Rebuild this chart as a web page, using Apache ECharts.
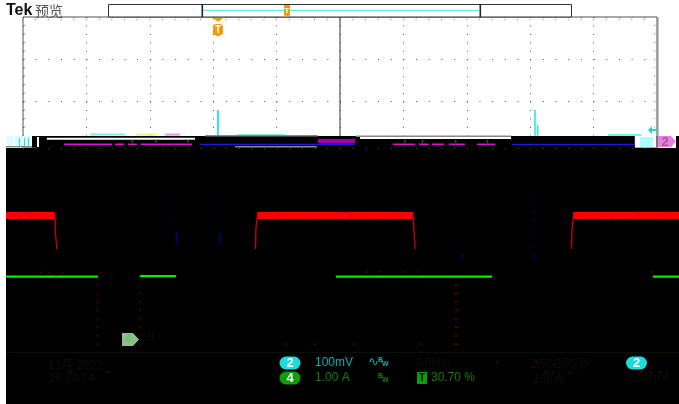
<!DOCTYPE html>
<html><head><meta charset="utf-8">
<style>html,body{margin:0;padding:0;background:#fff}#c{width:679px;height:404px}</style>
<script src="https://cdn.jsdelivr.net/npm/echarts@6/dist/echarts.min.js"></script>
</head><body><div id="c"></div>
<script>
// time in microseconds (4 us per division, 0 at centre); level in divisions from the top of each grid
const redBand = [[-21.07,1.596],[-18.0,1.596],null,[-5.22,1.596],[4.62,1.596],null,[14.7,1.596],[21.39,1.596]];
const redEdge = [[-17.98,1.55],[-17.96,2.0],[-17.85,2.39],null,[-5.33,2.39],[-5.3,1.9],[-5.2,1.55],null,[4.6,1.55],[4.68,2.0],[4.74,2.39],null,[14.6,2.39],[14.65,1.9],[14.75,1.55]];
const redSpikes = [[-20.2,1.5],[-20.2,1.7],null,[-19.5,1.5],[-19.5,1.7],null,[-18.9,1.52],[-18.9,1.69],null,[-3.8,1.5],[-3.8,1.69],null,[-1.9,1.52],[-1.9,1.7],null,[0.7,1.49],[0.7,1.7],null,[2.8,1.52],[2.8,1.69],null,[15.9,1.5],[15.9,1.7],null,[17.2,1.52],[17.2,1.7],null,[18.9,1.5],[18.9,1.69],null,[20.5,1.5],[20.5,1.7]];
const greenTrace = [[-21.07,3.04],[-15.27,3.04],null,[-12.62,3.03],[-10.35,3.03],null,[-0.25,3.04],[9.59,3.04],null,[19.75,3.04],[21.39,3.04]];
const redDotTimes = [-15.3,-12.6,7.3,7.4];
const redDotLevels = [3.24,3.44,3.64,3.84,4.04,4.24,4.44,4.64];
const blueDotTimes = [-10.41,-7.65,12.18,12.28];
const blueDotLevels = [1.11,1.31,1.51,1.71,1.91,2.11,2.31];
const redSpecks = [[-18.9,2.94],[-18.4,2.94],[-17.5,2.94],[-15.1,2.94],[-3.4,4.64],[-1.6,4.64],[0.9,4.64],[1.7,2.93],[2.5,2.93],[5.1,4.64],[4.1,2.93],[4.9,2.93],[19.7,2.93],[-17.3,5.0],[-16.2,5.05],[-14.6,5.3],[-17.0,5.3],[9.9,5.05],[12.4,5.05],[13.0,5.3],[13.4,5.32],[14.5,5.32],[19.0,5.3],[19.6,5.3],[20.2,5.3],[5.0,5.4]];
const blueBars = [[-10.3,2.0],[-10.3,2.25],null,[-7.55,2.0],[-7.55,2.25],null,[7.75,2.5],[7.75,2.6],null,[12.2,2.5],[12.2,2.6]];
const spike1 = [[-7.7,2.2],[-7.7,2.81]];
const spike2 = [[12.3,2.2],[12.3,2.81],null,[12.47,2.55],[12.47,2.81]];
const centreLine = [[0,0],[0,2.81]];
const blackBand = [[-19.43,2.955],[18.61,2.955]];
const whiteStrips = [[-18.49,2.877],[-9.15,2.877],null,[1.26,2.86],[10.79,2.86]];
const greyStrips = [[-6.62,3.066],[-1.45,3.066],null,[-8.5,2.81],[-1.4,2.81],null,[1.0,2.82],[10.8,2.82]];
const magentaDashes = [[-17.41,3.01],[-14.38,3.01],null,[-14.2,3.01],[-13.63,3.01],null,[-13.38,3.01],[-12.81,3.01],null,[-12.56,3.01],[-9.34,3.01],null,[3.34,3.01],[4.73,3.01],null,[4.98,3.01],[5.62,3.01],null,[5.8,3.01],[6.56,3.01],null,[6.88,3.01],[7.89,3.01],null,[8.64,3.01],[9.78,3.01]];
const blueLine = [[-8.83,3.012],[0.95,3.012],null,[10.85,3.012],[18.61,3.012]];
const purpleBlock = [[-1.39,2.93],[0.95,2.93]];
const cyanNoise = [[-15.77,2.78],[-13.56,2.78],null,[-6.5,2.79],[-3.5,2.79],null,[16.9,2.79],[19,2.79]];
const yellowNoise = [[-12.87,2.78],[-11.55,2.78]];
const magentaNoise = [[-11.04,2.78],[-10.09,2.78]];
const greenTicks = [[-13.1,2.94],[-11.6,2.94],[-9.6,2.94],[4.1,2.94],[5.2,2.94],[7.3,2.94],[9.3,2.94]];
const channelLabels = ['2','4'];
const scaleLabels = ['100mV','1.00 A'];
const triggerLevel = '30.70 %';

function cross(ts, ls){const o=[];ts.forEach(t=>ls.forEach(l=>o.push([t,l])));return o;}
const edgeTicks=[];for(let i=-25;i<=25;i++){edgeTicks.push([i*0.8,0.06]);}
for(let j=1;j<14;j++){edgeTicks.push([-19.9,j*0.2]);edgeTicks.push([19.85,j*0.2]);}
function L(name,grid,data,color,width,z){return {name,type:'line',xAxisIndex:grid,yAxisIndex:grid,data,symbol:'none',silent:true,clip:false,connectNulls:false,animation:false,z:z||5,lineStyle:{color,width,cap:'butt'}};}
function S(name,grid,data,color,size,z){return {name,type:'scatter',xAxisIndex:grid,yAxisIndex:grid,data,symbol:'rect',symbolSize:size,silent:true,clip:false,animation:false,z:z||5,itemStyle:{color}};}
function txt(x,y,t,fill,font,extra){return Object.assign({type:'text',x,y,z:50,style:{text:t,fill,font,textVerticalAlign:'middle'}},extra||{});}
function rect(x,y,w,h,fill,r,z){return {type:'rect',z:z||40,shape:{x,y,width:w,height:h,r:r||0},style:{fill}};}
function badge(cx,cy,w,h,fill,t){return [rect(cx-w/2,cy-h/2,w,h,fill,h/2),txt(cx,cy,t,'#fff','bold 12px "Liberation Sans"',{style:{text:t,fill:'#fff',font:'bold 13px "Liberation Sans"',textAlign:'center',textVerticalAlign:'middle'}})];}
const sans='"Liberation Sans"',cjk='"Noto Sans CJK SC"';
const orange='#f59a0c';
const faint='#0d0d0d';
const graphic=[
 txt(6,11,'Tek','#111','bold 16px '+sans),
 txt(35,11,'预览','#555','14px '+cjk),
 {type:'rect',z:40,shape:{x:108.5,y:4.5,width:463,height:12.5},style:{fill:'#fff',stroke:'#333',lineWidth:1}},
 {type:'line',z:41,shape:{x1:203,y1:10.3,x2:479,y2:10.3},style:{stroke:'#3fe8e8',lineWidth:1}},
 rect(201.5,4,1.6,13,'#222',0,41), rect(479.5,4,1.6,13,'#222',0,41),
 {type:'polygon',z:42,shape:{points:[[284,5],[290,5],[290,15],[287,17],[284,15]]},style:{fill:orange}},
 {type:'polygon',z:42,shape:{points:[[213,18],[223,18],[218,22]]},style:{fill:orange}},
 {type:'polygon',z:42,shape:{points:[[215,24],[221,24],[223,26],[223,34],[218,36.5],[213,34],[213,26]]},style:{fill:orange}},
 txt(218,30,'T','#fff','bold 10px '+sans,{style:{text:'T',fill:'#fff',font:'bold 10px '+sans,textAlign:'center',textVerticalAlign:'middle'}}),
 txt(287,11,'T','#fff','bold 8px '+sans,{style:{text:'T',fill:'#fff',font:'bold 8px '+sans,textAlign:'center',textVerticalAlign:'middle'}}),
 // left edge channel readout noise
 rect(7,136,23,10,'#d8ffff',0,41), rect(13,137,2,9,'#fff',0,42), rect(19,138,1,8,'#3dd',0,42), rect(24,138,1,8,'#3dd',0,42), rect(28,138,1,8,'#3dd',0,42),
 rect(6,146,30,1.4,'#888',0,42), rect(37,137,2,10,'#fff',0,42), rect(32,136,5,11,'#000',0,42),
 // right edge markers
 rect(634,136,1,11,'#2222dd',0,42), rect(635,136,21,11,'#fff',0,41), rect(640,137,13,10,'#aaffff',0,42), rect(656,136,2,11,'#777',0,42),
 {type:'polygon',z:42,shape:{points:[[658,136],[671,136],[676,141.5],[671,147],[658,147]]},style:{fill:'#ec7de6'}},
 txt(665,142,'2','#8a6a8a','bold 13px '+sans,{style:{text:'2',fill:'#8a6a8a',font:'bold 13px '+sans,textAlign:'center',textVerticalAlign:'middle'}}),
 rect(676,136,3,12,'#000',0,41),
 {type:'polygon',z:42,shape:{points:[[648,130],[652,126],[652,129],[657,129],[657,131],[652,131],[652,134]]},style:{fill:'#17d5d5'}},
 rect(657,17,1.6,119,'#999',0,42),
 // lower readout
 rect(6,352,673,1,'#071207',0,6),
 {type:'polygon',z:42,shape:{points:[[122,333],[133,333],[139,339.5],[133,346],[122,346]]},style:{fill:'#8fbd8f'}},
 txt(128,340,'4','#5ecb5e','bold 12px '+sans,{style:{text:'4',fill:'#5ecb5e',font:'bold 12px '+sans,textAlign:'center',textVerticalAlign:'middle'}}),
 ...badge(290,363,21,13,'#1bdcdc',channelLabels[0]),
 ...badge(290,378,21,13,'#0aa00a',channelLabels[1]),
 ...badge(636.5,363,21,13,'#1bdcdc',channelLabels[0]),
 txt(315,363,scaleLabels[0],'#0ab0b0','12px '+sans),
 txt(315,378,scaleLabels[1],'#0a800a','12px '+sans),
 txt(368,363,'∿','#0ab0b0','13px "DejaVu Sans"'),
 txt(378,360,'B','#0ab0b0','bold 7px '+sans), txt(382,364,'W','#0ab0b0','bold 7px '+sans),
 txt(378,376,'B','#0a800a','bold 7px '+sans), txt(382,380,'W','#0a800a','bold 7px '+sans),
 rect(417,372,10,12,'#0aa00a',1),
 txt(422,378,'T','#000','bold 10px '+sans,{style:{text:'T',fill:'#000',font:'bold 10px '+sans,textAlign:'center',textVerticalAlign:'middle'}}),
 txt(431,378,triggerLevel,'#0a800a','12px '+sans),
 // dim readouts, almost lost in the black
 txt(48,364,'11月 2022',faint,'12px '+cjk),
 txt(48,379,'16:24:14',faint,'12px '+sans),
 txt(415,363,'4.00µs',faint,'12px '+sans),
 txt(530,363,'2.50G次/秒',faint,'12px '+cjk),
 txt(533,378,'10k点',faint,'12px '+cjk),
 txt(627,378,'22.0mV',faint,'12px '+sans),
 txt(142,338,'10',faint,'11px '+sans)
];
const chart=echarts.init(document.getElementById('c'),null,{renderer:'canvas'});
const hidden={show:false};
chart.setOption({
 animation:false,
 backgroundColor:'#fff',
 grid:[
  {left:23,top:17,width:634,height:131,show:true,backgroundColor:'#fff',borderColor:'#555',borderWidth:1,z:0},
  {left:6,top:148,right:0,bottom:0,show:true,backgroundColor:'#000',borderWidth:0,z:0}
 ],
 xAxis:[
  {gridIndex:0,z:3,type:'value',min:-20,max:20,interval:4,axisLabel:hidden,axisTick:hidden,axisLine:hidden,
   splitLine:{show:true,lineStyle:{color:'#555',width:1,type:[1,7.46]}}},
  {gridIndex:1,type:'value',min:-21.07,max:21.39,axisLabel:hidden,axisTick:hidden,axisLine:hidden,splitLine:hidden}
 ],
 yAxis:[
  {gridIndex:0,z:3,type:'value',inverse:true,min:0,max:3.097,interval:1,axisLabel:hidden,axisTick:hidden,axisLine:hidden,
   splitLine:{show:true,lineStyle:{color:'#555',width:1,type:[1,11.68]}}},
  {gridIndex:1,type:'value',inverse:true,min:0,max:6.052,axisLabel:hidden,axisTick:hidden,axisLine:hidden,splitLine:hidden}
 ],
 graphic:{elements:graphic},
 series:[
  S('edge',0,edgeTicks,'#888',1.2,3),
  L('centre',0,centreLine,'#333',1,4),
  L('spike1',0,spike1,'#2fe6e6',2,4),
  L('spike2',0,spike2,'#2fe6e6',1.6,4),
  L('cyanNoise',0,cyanNoise,'#7feeee',2,4),
  L('yellowNoise',0,yellowNoise,'#f6f07a',2,4),
  L('magentaNoise',0,magentaNoise,'#f28cf0',2,4),
  L('band',0,blackBand,'#000',12,6),
  L('white',0,whiteStrips,'#fff',2,7),
  L('grey',0,greyStrips,'#888',1.5,7),
  L('magenta',0,magentaDashes,'#e010d0',1.4,7),
  L('blue',0,blueLine,'#1a1ae0',1.2,7),
  L('purple',0,purpleBlock,'#a000a0',4,7),
  S('greenTicks',0,greenTicks,'#0a8a0a',[1.5,3],8),
  L('redBand',1,redBand,'#ff0000',7,6),
  L('redEdge',1,redEdge,'#c40000',1.4,6),
  L('redSpikes',1,redSpikes,'#d00000',1,6),
  L('green',1,greenTrace,'#00ee00',2.4,6),
  L('blueBars',1,blueBars,'#00008e',1.4,6),
  S('redDots',1,cross(redDotTimes,redDotLevels),'#b00000',1.3,6),
  S('blueDots',1,cross(blueDotTimes,blueDotLevels),'#00007a',1.3,6),
  S('redSpecks',1,redSpecks,'#a00000',1.4,6)
 ]
});
</script></body></html>
